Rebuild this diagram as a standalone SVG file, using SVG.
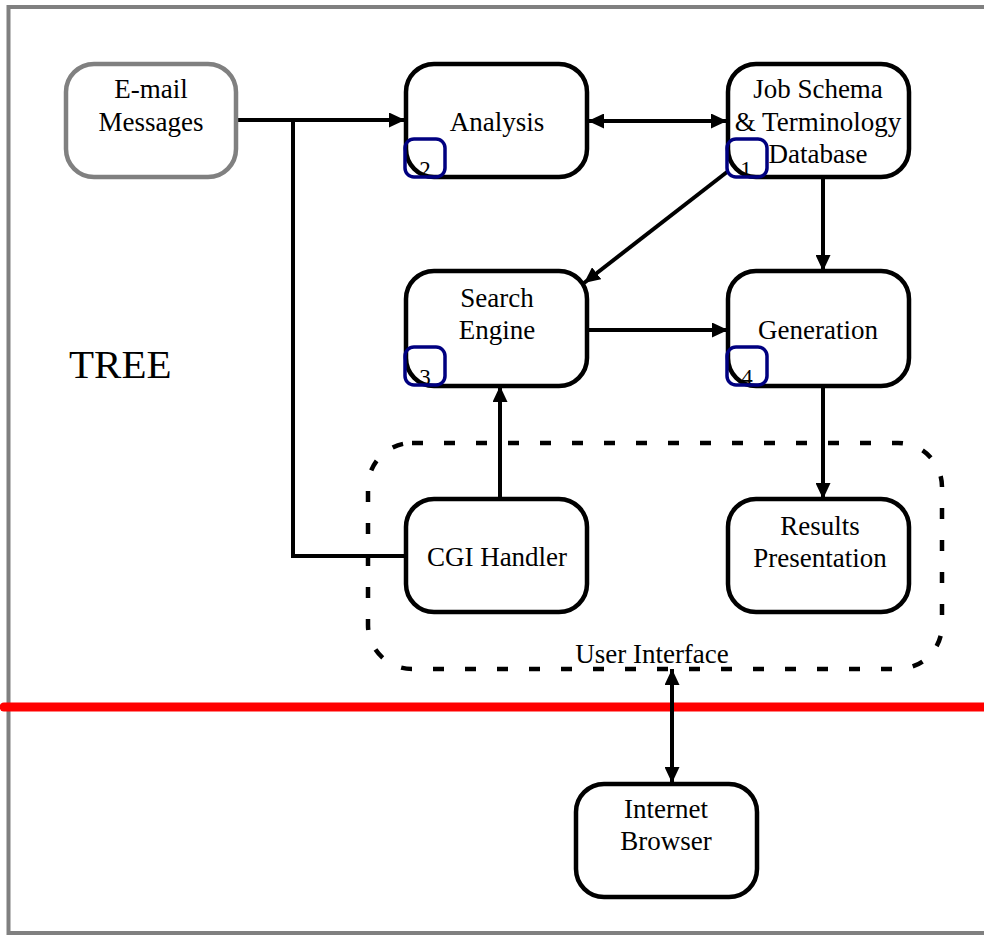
<svg xmlns="http://www.w3.org/2000/svg" width="984" height="935" viewBox="0 0 984 935">
<style>
.box{fill:#fff;stroke:#000;stroke-width:4.5}
.gray{fill:#fff;stroke:#808080;stroke-width:4.5}
.tag{fill:none;stroke:#000080;stroke-width:3.5}
.t{font-family:"Liberation Serif","Times New Roman",serif;font-size:27px;fill:#000;text-anchor:middle}
.n{font-family:"Liberation Serif","Times New Roman",serif;font-size:23px;fill:#000;text-anchor:middle}
.c{fill:none;stroke:#000;stroke-width:4}
</style>
<defs>
<marker id="ah" markerUnits="userSpaceOnUse" markerWidth="17" markerHeight="15" refX="16" refY="7.5" orient="auto-start-reverse">
<path d="M0,0 L16,7.5 L0,15 z" fill="#000"/>
</marker>
</defs>
<rect x="8.5" y="7" width="1000" height="926" fill="none" stroke="#808080" stroke-width="4"/>
<line x1="4" y1="707" x2="995" y2="707" stroke="#ff0000" stroke-width="9" stroke-linecap="round"/>
<text x="69" y="378" font-family="Liberation Serif, Times New Roman, serif" font-size="41">TREE</text>
<g id="ui-group">
<rect x="368" y="443" width="574" height="226" rx="44" fill="none" stroke="#000" stroke-width="4.5" stroke-dasharray="11 21"/>
<text class="t" x="652" y="663">User Interface</text>
</g>
<g id="connectors">
<path class="c" d="M237,120 H405" marker-end="url(#ah)"/>
<path class="c" d="M293,120 V556 H407"/>
<path class="c" d="M588,121 H727" marker-start="url(#ah)" marker-end="url(#ah)"/>
<path class="c" d="M727,172 L584,283" marker-end="url(#ah)"/>
<path class="c" d="M823,178 V271" marker-end="url(#ah)"/>
<path class="c" d="M587,330 H728" marker-end="url(#ah)"/>
<path class="c" d="M823,386 V499" marker-end="url(#ah)"/>
<path class="c" d="M500,499 V386" marker-end="url(#ah)"/>
<path class="c" d="M672,669 V783" marker-start="url(#ah)" marker-end="url(#ah)"/>
</g>
<g id="email">
<rect class="gray" x="66" y="64" width="170" height="113" rx="28"/>
<text class="t" x="151" y="98">E-mail</text>
<text class="t" x="151" y="131">Messages</text>
</g>
<g id="analysis">
<rect class="box" x="406" y="64" width="181" height="113" rx="28"/>
<text class="t" x="497" y="131">Analysis</text>
<text class="n" x="425" y="177">2</text>
<rect class="tag" x="405" y="139" width="40" height="38" rx="9"/>
</g>
<g id="jobschema">
<rect class="box" x="728" y="64" width="181" height="113" rx="28"/>
<text class="t" x="818" y="98">Job Schema</text>
<text class="t" x="818" y="131">&amp; Terminology</text>
<text class="t" x="818" y="163">Database</text>
<text class="n" x="746" y="177">1</text>
<rect class="tag" x="727" y="139" width="40" height="38" rx="9"/>
</g>
<g id="search">
<rect class="box" x="406" y="271" width="181" height="115" rx="28"/>
<text class="t" x="497" y="307">Search</text>
<text class="t" x="497" y="339">Engine</text>
<text class="n" x="425" y="385">3</text>
<rect class="tag" x="405" y="347" width="40" height="38" rx="9"/>
</g>
<g id="generation">
<rect class="box" x="728" y="271" width="181" height="115" rx="28"/>
<text class="t" x="818" y="339">Generation</text>
<text class="n" x="747" y="385">4</text>
<rect class="tag" x="727" y="347" width="40" height="38" rx="9"/>
</g>
<g id="cgi">
<rect class="box" x="406" y="499" width="181" height="113" rx="28"/>
<text class="t" x="497" y="566">CGI Handler</text>
</g>
<g id="results">
<rect class="box" x="728" y="499" width="181" height="113" rx="28"/>
<text class="t" x="820" y="535">Results</text>
<text class="t" x="820" y="567">Presentation</text>
</g>
<g id="browser">
<rect class="box" x="576" y="784" width="181" height="113" rx="28"/>
<text class="t" x="666" y="818">Internet</text>
<text class="t" x="666" y="850">Browser</text>
</g>
</svg>
